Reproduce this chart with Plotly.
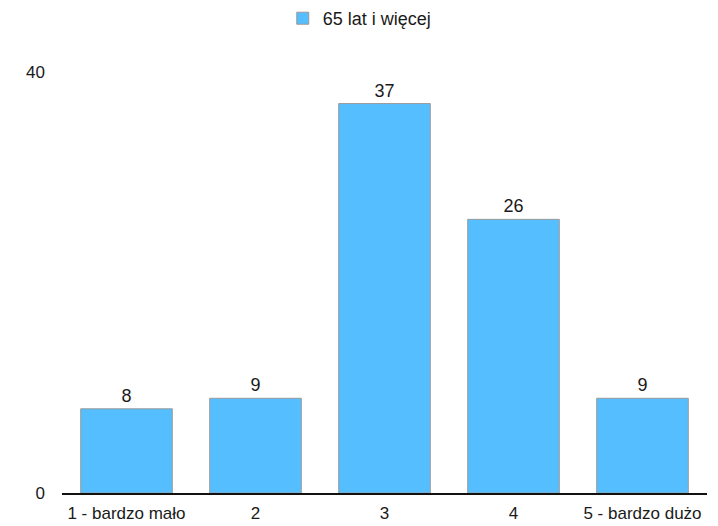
import plotly.graph_objects as go

categories = ["1 - bardzo mało", "2", "3", "4", "5 - bardzo dużo"]
values = [8, 9, 37, 26, 9]
series_name = "65 lat i więcej"
y_tick_vals = [0, 40]

FONT = "Liberation Sans, Arial, sans-serif"

fig = go.Figure()
fig.add_trace(go.Bar(
    x=categories,
    y=values,
    name=series_name,
    text=[str(v) for v in values],
    textposition="outside",
    textfont=dict(size=18, color="#1a1a1a", family=FONT),
    marker=dict(color="#55BEFF", line=dict(color="#9a9a9a", width=1)),
    cliponaxis=False,
    width=0.71,
    showlegend=True,
))

# The page body has an 8px default margin, so the figure is sized to fit the window.
fig.update_layout(
    width=710,
    height=518,
    margin=dict(l=54, r=11, t=64, b=33, autoexpand=False),
    paper_bgcolor="white",
    plot_bgcolor="white",
    font=dict(family=FONT, size=17, color="#1a1a1a"),
    showlegend=True,
    legend=dict(
        orientation="h",
        xref="container", yref="paper",
        x=0.387, xanchor="left",
        y=1.171, yanchor="top",
        bgcolor="rgba(0,0,0,0)",
        font=dict(size=18),
    ),
    xaxis=dict(
        automargin=False,
        showgrid=False,
        showline=True,
        linecolor="#111",
        linewidth=2,
        ticks="",
        ticklabelstandoff=4,
        tickfont=dict(size=17),
    ),
    yaxis=dict(
        automargin=False,
        range=[0, 40],
        tickvals=y_tick_vals,
        showgrid=False,
        zeroline=False,
        showline=False,
        ticks="",
        ticklabelstandoff=16,
        tickfont=dict(size=17),
    ),
)

fig.write_html("out.html")
